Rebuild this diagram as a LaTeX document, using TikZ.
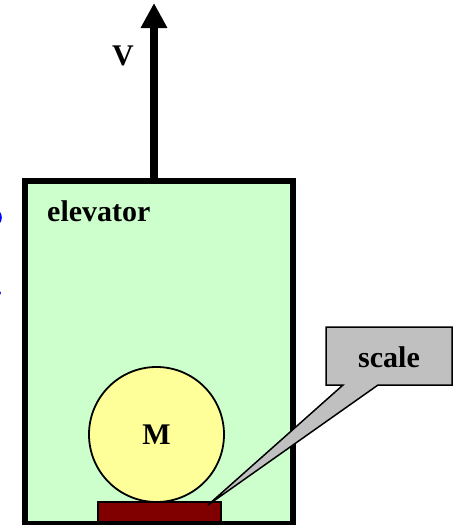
\documentclass[tikz,border=0pt]{standalone}
\usepackage{fontspec}
\setmainfont{Liberation Serif}
\usetikzlibrary{arrows.meta}
\definecolor{elevgreen}{HTML}{CCFFCC}
\definecolor{massyellow}{HTML}{FFFF99}
\definecolor{scalered}{HTML}{800000}
\definecolor{calloutgray}{HTML}{C0C0C0}
\definecolor{cutblue}{HTML}{0000FF}
\tikzset{
  lbl/.style={font=\fontsize{30}{31}\selectfont\bfseries, inner sep=0pt},
  elevbox/.style={draw, line width=6pt, fill=elevgreen, rectangle, inner sep=0pt, outer sep=0pt, minimum width=268pt, minimum height=343pt},
  massball/.style={draw, line width=1.8pt, fill=massyellow, circle, inner sep=0pt, minimum size=135pt},
  scalebar/.style={draw, line width=1.5pt, fill=scalered, rectangle, inner sep=0pt, minimum width=123pt, minimum height=20pt},
  calloutshape/.style={draw, line width=1.5pt, fill=calloutgray, line join=miter},
  vel/.style={line width=8pt, -{Triangle[width=25pt,length=25pt]}}
}
\begin{document}
\begin{tikzpicture}[x=1pt,y=-1pt]
\useasboundingbox (0,0) rectangle (457,525);
% cut-off blue marks at the left edge
\fill[cutblue] (-4,217.5) ellipse [x radius=5.8pt, y radius=7.5pt];
\fill[cutblue] (-3,293) ellipse [x radius=4pt, y radius=3pt];
% elevator
\node[elevbox] (elev) at (159,352.5) {};
\node[lbl, anchor=base west] (elevlbl) at (47,221) {elevator};
% velocity arrow
\coordinate (vtip) at (154,3);
\draw[vel] (elev.north -| vtip) -- (vtip);
\node[lbl, anchor=base] (vlbl) at (123,65) {V};
% scale and mass
\node[scalebar] (scalebar) at (159.5,512) {};
\node[massball] (mass) at (156.5,434.5) {};
\node[lbl] (masslbl) at (mass.center) {M};
% callout
\coordinate (tip) at (208,505);
\coordinate (cnw) at (326,327);
\coordinate (cse) at (452,385);
\draw[calloutshape] (cnw) -- (cnw -| cse) -- (cse) -- (378,385) -- (tip) -- (343,385) -- (cse -| cnw) -- cycle;
\node[lbl, anchor=base] (callout) at (389,367) {scale};
\end{tikzpicture}
\end{document}
